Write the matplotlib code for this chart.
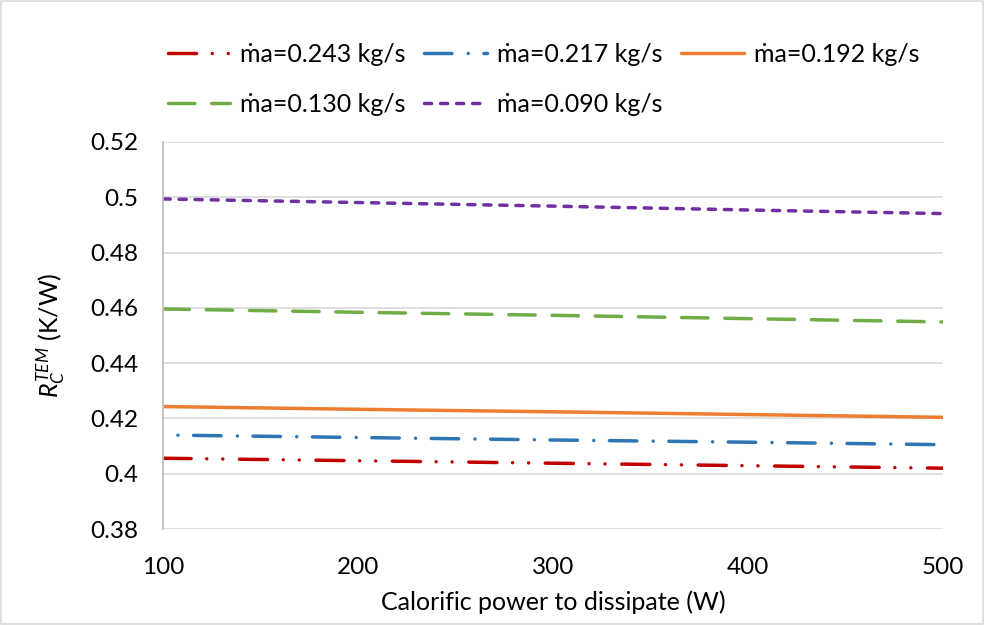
import matplotlib
matplotlib.use("Agg")
import matplotlib.pyplot as plt
from matplotlib.lines import Line2D
from matplotlib.patches import Rectangle

plt.rcParams['font.family'] = ['Lato', 'DejaVu Sans']
plt.rcParams['mathtext.fontset'] = 'custom'
plt.rcParams['mathtext.rm'] = 'Lato'
plt.rcParams['mathtext.it'] = 'Lato:italic'

# data
power = [100, 200, 300, 400, 500]
labels = ['ṁa=0.243 kg/s', 'ṁa=0.217 kg/s', 'ṁa=0.192 kg/s',
          'ṁa=0.130 kg/s', 'ṁa=0.090 kg/s']
r_0243 = [0.4056, 0.4047, 0.4038, 0.4029, 0.4020]
r_0217 = [0.4140, 0.4131, 0.4122, 0.4114, 0.4105]
r_0192 = [0.4243, 0.4233, 0.4224, 0.4214, 0.4204]
r_0130 = [0.4596, 0.4584, 0.4573, 0.4561, 0.4549]
r_0090 = [0.4994, 0.4981, 0.4968, 0.4954, 0.4941]

series = [r_0243, r_0217, r_0192, r_0130, r_0090]
colors = ['#C00000', '#2E75B6', '#ED7D31', '#70AD47', '#7030A0']
dashes = [(8.1, 4.5, 0.01, 4.6, 0.01, 4.8),
          (7.9, 4.7, 0.01, 4.5),
          None,
          (7.6, 4.85),
          (2.07, 2.55)]
offsets = [0, 8.3, 0, 0, 0]

fig = plt.figure(figsize=(9.85, 6.25), dpi=100)
ax = fig.add_axes([163 / 985, 1 - 529 / 625, 780 / 985, 387 / 625])

handles = []
for ys, c, d, off, lab in zip(series, colors, dashes, offsets, labels):
    ls = '-' if d is None else (off, d)
    ax.plot(power, ys, color=c, linestyle=ls, linewidth=2.5,
            dash_capstyle='round', solid_capstyle='round')
    # legend sample always starts with the dash
    handles.append(Line2D([], [], color=c, linewidth=2.5,
                          linestyle='-' if d is None else (0, d),
                          dash_capstyle='round', solid_capstyle='round'))

ax.set_xlim(100, 500)
ax.set_ylim(0.38, 0.52)
ax.set_xticks([100, 200, 300, 400, 500])
ax.set_yticks([0.38, 0.40, 0.42, 0.44, 0.46, 0.48, 0.50, 0.52])
ax.set_yticklabels(['0.38', '0.4', '0.42', '0.44', '0.46', '0.48', '0.5', '0.52'])
ax.tick_params(axis='both', length=0, labelsize=17.5, colors='#000000')
ax.tick_params(axis='x', pad=20)
ax.tick_params(axis='y', pad=18)
ax.grid(axis='y', color='#D9D9D9', linewidth=1.2)
ax.set_axisbelow(True)
for side in ['top', 'right']:
    ax.spines[side].set_visible(False)
ax.spines['bottom'].set_visible(False)
ax.spines['left'].set_color('#BFBFBF')
ax.spines['left'].set_linewidth(1.3)

ax.set_xlabel('Calorific power to dissipate (W)', fontsize=18, labelpad=9)
ax.set_ylabel(r'$R_C^{TEM}$ (K/W)', fontsize=18, labelpad=16)

# reorder so the legend fills row by row
order = [0, 3, 1, 4, 2]
fig.legend([handles[i] for i in order], [labels[i] for i in order],
           ncol=3, loc='upper left', bbox_to_anchor=(145 / 985, 1 - 20 / 625),
           frameon=False, fontsize=18, handlelength=2.5, handletextpad=0.4,
           columnspacing=0.75, labelspacing=1.1)

fig.patches.append(Rectangle((0.001, 0.001), 0.997, 0.997, transform=fig.transFigure,
                             fill=False, edgecolor='#D9D9D9', linewidth=1.2))

fig.savefig('out.png', dpi=100)
